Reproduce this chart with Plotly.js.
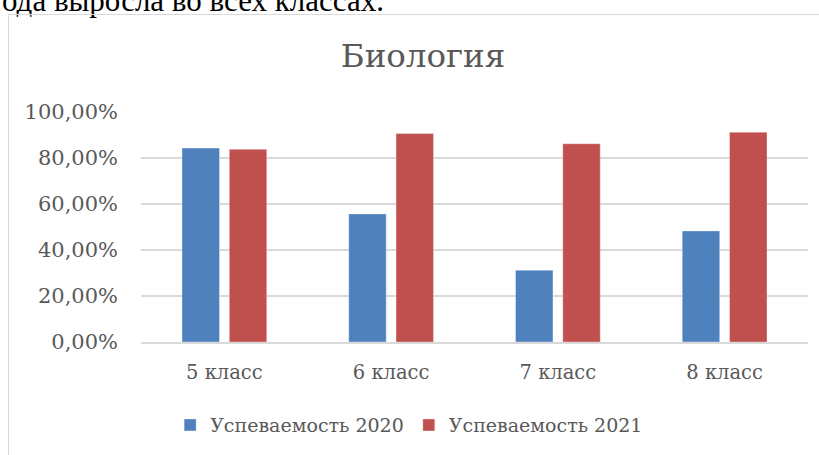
<!DOCTYPE html>
<html>
<head>
<meta charset="utf-8">
<script src="https://cdn.plot.ly/plotly-3.0.1.min.js"></script>
<style>
html,body{margin:0;padding:0;background:#fff;overflow:hidden;}
#wrap{position:relative;width:819px;height:455px;}
#frame{position:absolute;left:8px;top:14px;width:840px;height:460px;border:1px solid #d9d9d9;box-sizing:border-box;pointer-events:none;}
#chart{position:absolute;left:0;top:0;width:819px;height:455px;}
</style>
</head>
<body>
<div id="wrap">
<div id="chart"></div>
<div id="frame"></div>
</div>
<script>
var categories = ["5 класс", "6 класс", "7 класс", "8 класс"];
var series2020 = [0.843, 0.557, 0.312, 0.483];
var series2021 = [0.838, 0.906, 0.862, 0.912];
var seriesNames = ["Успеваемость 2020", "Успеваемость 2021"];
var chartTitle = "Биология";
var topText = "ода выросла во всех классах.";

var FONT = "DejaVu Serif";
var traces = [
  {type:"bar", x:categories, y:series2020, name:seriesNames[0],
   marker:{color:"#4F81BD", line:{color:"rgba(255,255,255,0.35)", width:1}}, hoverinfo:"none"},
  {type:"bar", x:categories, y:series2021, name:seriesNames[1],
   marker:{color:"#C0504D", line:{color:"rgba(255,255,255,0.35)", width:1}}, hoverinfo:"none"}
];
var layout = {
  width:819, height:455,
  margin:{l:141, r:11, t:112, b:113},
  paper_bgcolor:"rgba(0,0,0,0)", plot_bgcolor:"rgba(0,0,0,0)",
  separators:", ",
  barmode:"group", bargap:0.433, bargroupgap:0.207,
  title:{text:chartTitle, font:{family:FONT, size:32.5, color:"#595959"},
         x:0.5165, xanchor:"center", xref:"container", y:1-56/455, yanchor:"middle", yref:"container"},
  xaxis:{type:"category", showgrid:false, zeroline:false, showline:true, linecolor:"#d9d9d9", linewidth:1.5,
         ticks:"", ticklabelstandoff:12,
         tickfont:{family:FONT, size:19.5, color:"#595959"}},
  yaxis:{range:[0,1], dtick:0.2, tick0:0, tickformat:".2%", showgrid:true, gridcolor:"#d9d9d9", gridwidth:1.5,
         zeroline:false, showline:false, ticks:"", ticklabelstandoff:22,
         tickfont:{family:FONT, size:21, color:"#595959"}},
  showlegend:true,
  legend:{orientation:"h", x:0.402, xanchor:"center", y:-0.361, yanchor:"middle",
          font:{family:FONT, size:19, color:"#595959"}, itemclick:false, traceorder:"normal", entrywidth:0},
  annotations:[{text:topText, xref:"paper", yref:"paper", x:-141/667, xanchor:"left",
                y:(342-1)/230, yanchor:"middle", showarrow:false,
                font:{family:"Liberation Serif", size:31, color:"#000"}}]
};
Plotly.newPlot("chart", traces, layout, {staticPlot:true, displayModeBar:false});
</script>
</body>
</html>
